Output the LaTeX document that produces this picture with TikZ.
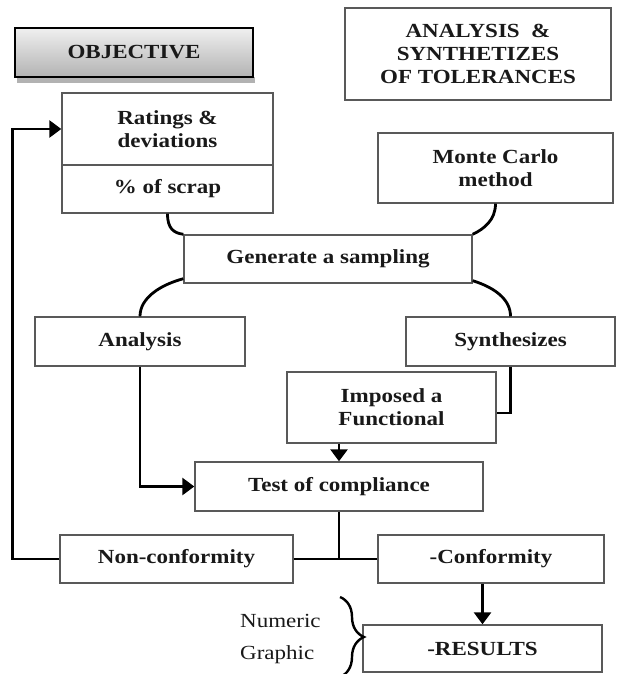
\documentclass[tikz,border=0pt]{standalone}
\usepackage{fontspec}
\setmainfont{Liberation Serif}[FakeStretch=1.15]
\usetikzlibrary{arrows.meta,decorations.pathreplacing}
\begin{document}
\begin{tikzpicture}[x=1pt,y=-1pt,
  box/.style={draw=black!65,line width=1.4pt,fill=white,inner sep=0pt,
    font=\fontsize{20}{23}\selectfont\bfseries,text=black!90,align=center},
  sz/.style 2 args={minimum width=#1pt,minimum height=#2pt},
  objbox/.style={box,draw=black,line width=2.6pt,top color=black!6,bottom color=black!30},
  conn/.style={line width=2.8pt,black},
  arr/.style={conn,-{Triangle[length=12pt,width=17pt]}},
  plain/.style={font=\fontsize{20}{23}\selectfont,text=black!90,inner sep=0pt}]
\fill[white] (0,0) rectangle (624,674);
\useasboundingbox (0,0) rectangle (624,674);
% shadow of objective
\fill[black!30] (17,77) rectangle (255,83);
\node[objbox,sz={238}{49}] (obj) at (134,52.5) {OBJECTIVE};
\node[box,sz={266}{92}] (ast) at (478,54) {ANALYSIS \ \&\\SYNTHETIZES\\OF TOLERANCES};
\node[box,sz={211}{72}] (rat) at (167.5,129) {Ratings \&\\deviations};
\node[box,sz={211}{48}] (scrap) at (167.5,189) {\% of scrap};
\node[box,sz={235}{70}] (mc) at (495.5,168) {Monte Carlo\\method};
\node[box,sz={288}{48}] (gen) at (328,259) {Generate a sampling};
\node[box,sz={210}{49}] (ana) at (140,341.5) {Analysis};
\node[box,sz={209}{49}] (syn) at (510.5,341.5) {Synthesizes};
\node[box,sz={209}{71}] (imp) at (391.5,407.5) {Imposed a\\Functional};
\node[box,sz={288}{49}] (test) at (339,486.5) {Test of compliance};
\node[box,sz={233}{48}] (non) at (176.5,559) {Non-conformity};
\node[box,sz={226}{48}] (conf) at (491,559) {-Conformity};
\node[box,sz={239}{47}] (res) at (482.5,648.5) {-RESULTS};
\node[plain,anchor=west] (num) at (240,621) {Numeric};
\node[plain,anchor=west] (gra) at (240,655) {Graphic};
% curved connectors
\draw[conn] (scrap.south) .. controls (167.5,229) and (174,233) .. (gen.north west);
\draw[conn] (mc.south) .. controls (495.5,220) and (484,229) .. (gen.north east);
\draw[conn] ([yshift=5pt]gen.south west) .. controls (160,285) and (140,298) .. (ana.north);
\draw[conn] ([yshift=3pt]gen.south east) .. controls (496,288) and (510.5,300) .. (syn.north);
% straight connectors
\draw[conn] (syn.south) |- ([yshift=-5.5pt]imp.east);
\draw[arr] (test.north |- imp.south) -- (test.north);
\draw[arr] (ana.south) |- (test.west);
\draw[conn] (test.south) -- (test.south |- non.east);
\draw[conn] (non.east) -- (conf.west);
\draw[arr] (non.west) -- ++(-47,0) |- (rat.west);
\draw[arr] (res.north |- conf.south) -- (res.north);
% brace
\coordinate (bt) at (340,597);
\coordinate (bb) at (340,677);
\draw[line width=2.4pt,decorate,decoration={brace,amplitude=24pt,aspect=0.5}] (bt) -- (bb);
\end{tikzpicture}
\end{document}
